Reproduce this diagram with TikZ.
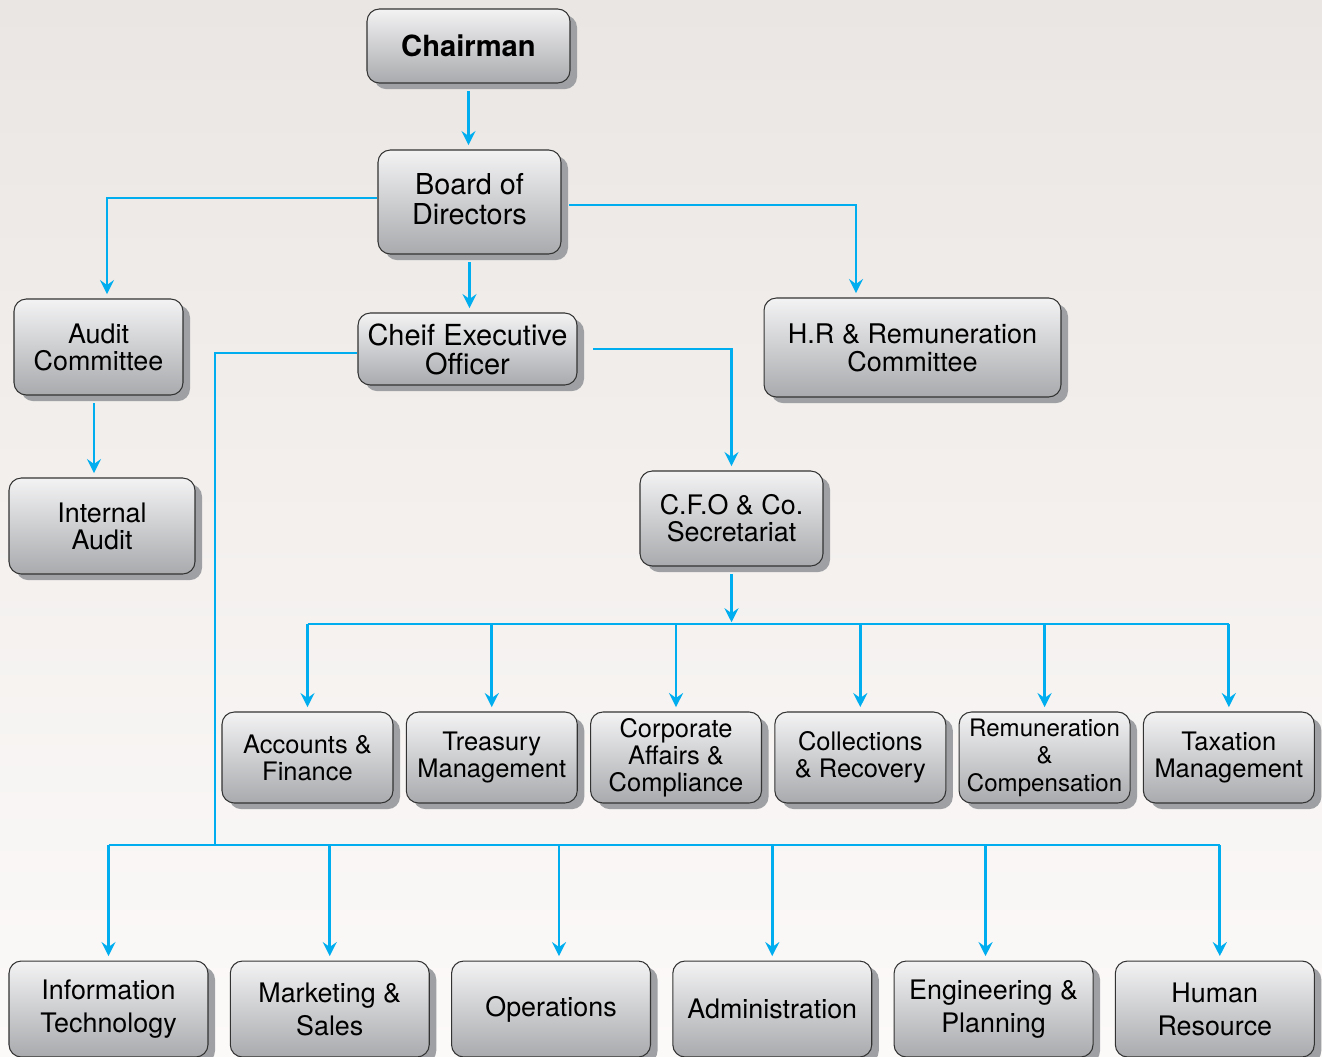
\documentclass[tikz,border=0pt]{standalone}
\usepackage{fontspec}
\setmainfont{TeX Gyre Heros}
\usetikzlibrary{positioning,shadows,arrows.meta}

\definecolor{linkblue}{RGB}{0,174,239}
\definecolor{boxtop}{RGB}{243,243,244}
\definecolor{boxbot}{RGB}{168,170,173}
\definecolor{boxshade}{RGB}{158,160,163}
\definecolor{papertop}{RGB}{234,230,227}
\definecolor{paperbot}{RGB}{252,250,249}

\tikzset{
	unit/.style={draw=black!80, line width=0.6pt, rounded corners=7pt, top color=boxtop, bottom color=boxbot, align=center, inner sep=2pt, drop shadow={shadow xshift=4pt, shadow yshift=-3.5pt, fill=boxshade, opacity=1}, font=\fontsize{15.3}{15.3}\selectfont},
	deptA/.style={unit, minimum width=3.42cm, minimum height=1.82cm, font=\fontsize{14.5}{15.3}\selectfont},
	deptB/.style={unit, minimum width=3.98cm, minimum height=1.92cm, font=\fontsize{15.3}{18.7}\selectfont},
	link/.style={draw=linkblue, line width=1.6pt, -{Stealth[length=8pt,width=8pt,inset=2.8pt]}, shorten >=2.5pt},
	busline/.style={draw=linkblue, line width=1.6pt},
	fromshade/.style={shorten <=4.5pt}
}

\begin{document}
\begin{tikzpicture}[x=0.02cm, y=-0.02cm]
	\useasboundingbox (0,0) rectangle (1322,1056);
	\fill[top color=papertop, bottom color=paperbot] (0,0) rectangle (1322,1056);

	\node[unit, minimum width=4.06cm, minimum height=1.48cm, font=\bfseries\fontsize{16.6}{17}\selectfont] (chair) at (468.5,46) {Chairman};
	\node[unit, minimum width=3.66cm, minimum height=2.08cm, font=\fontsize{16.4}{17}\selectfont] (board) at (469.5,202) {Board of\\Directors\rule[-0.12cm]{0pt}{0pt}};
	\node[unit, minimum width=3.38cm, minimum height=1.92cm] (audit) at (98.5,347) {Audit\\Committee};
	\node[unit, minimum width=4.38cm, minimum height=1.44cm, font=\fontsize{16.5}{16.5}\selectfont] (ceo) at (467.5,349) {Cheif Executive\\Officer};
	\node[unit, minimum width=5.94cm, minimum height=1.98cm, font=\fontsize{15.4}{15.8}\selectfont] (hr) at (912.5,347.5) {H.R \& Remuneration\\Committee};
	\node[unit, minimum width=3.72cm, minimum height=1.92cm] (internal) at (102,526) {Internal\\Audit};
	\node[unit, minimum width=3.66cm, minimum height=1.90cm] (cfo) at (731.5,518.5) {C.F.O \& Co.\\Secretariat};

	% finance row
	\node[deptA] (acc) at (307.5,757.5) {Accounts \&\\Finance};
	\node[deptA, right=0.245cm of acc] (treas) {Treasury\\Management};
	\node[deptA, right=0.245cm of treas] (corp) {Corporate\\Affairs \&\\Compliance};
	\node[deptA, right=0.245cm of corp] (coll) {Collections\\\& Recovery};
	\node[deptA, right=0.245cm of coll, font=\fontsize{13.7}{15.6}\selectfont] (rem) {Remuneration\\\&\\Compensation};
	\node[deptA, right=0.245cm of rem] (tax) {Taxation\\Management};

	% operating row
	\node[deptB] (it) at (108.5,1009) {Information\\Technology};
	\node[deptB, right=0.425cm of it] (mkt) {Marketing \&\\Sales};
	\node[deptB, right=0.425cm of mkt] (ops) {Operations};
	\node[deptB, right=0.425cm of ops] (admin) {Administration};
	\node[deptB, right=0.425cm of admin] (eng) {Engineering \&\\Planning};
	\node[deptB, right=0.425cm of eng] (hres) {Human\\Resource};

	\coordinate (midbus) at (732,624);
	\coordinate (lowbus) at (215,845);

	\draw[link, fromshade] (chair.south) -- (chair.south |- board.north);
	\draw[link] ([yshift=0.08cm]board.west) -| ([xshift=0.17cm]audit.north);
	\draw[link, fromshade] ([yshift=-0.06cm]board.east) -| ([xshift=-1.13cm]hr.north);
	\draw[link, fromshade] (board.south) -- (board.south |- ceo.north);
	\draw[link, fromshade] ([xshift=-0.09cm]audit.south) -- ([xshift=-0.09cm]audit.south |- internal.north);
	\draw[link, shorten <=9pt] (ceo.east) -| (cfo.north);
	\draw[link, fromshade, shorten >=1pt] (cfo.south) -- (cfo.south |- midbus);
	\draw[busline] ([yshift=-0.08cm]ceo.west) -| (lowbus);

	\draw[busline] (acc.north |- midbus) -- (tax.north |- midbus);
	\foreach \n in {acc,treas,corp,coll,rem,tax}
		\draw[link] (\n.north |- midbus) -- (\n.north);

	\foreach \n/\dx in {it/0,mkt/0,ops/0.16,admin/0,eng/-0.16,hres/0.1}
		\coordinate (d\n) at ([xshift=\dx cm]\n.north);
	\draw[busline] (dit |- lowbus) -- (dhres |- lowbus);
	\foreach \n in {it,mkt,ops,admin,eng,hres}
		\draw[link] (d\n |- lowbus) -- (d\n);

\end{tikzpicture}
\end{document}
